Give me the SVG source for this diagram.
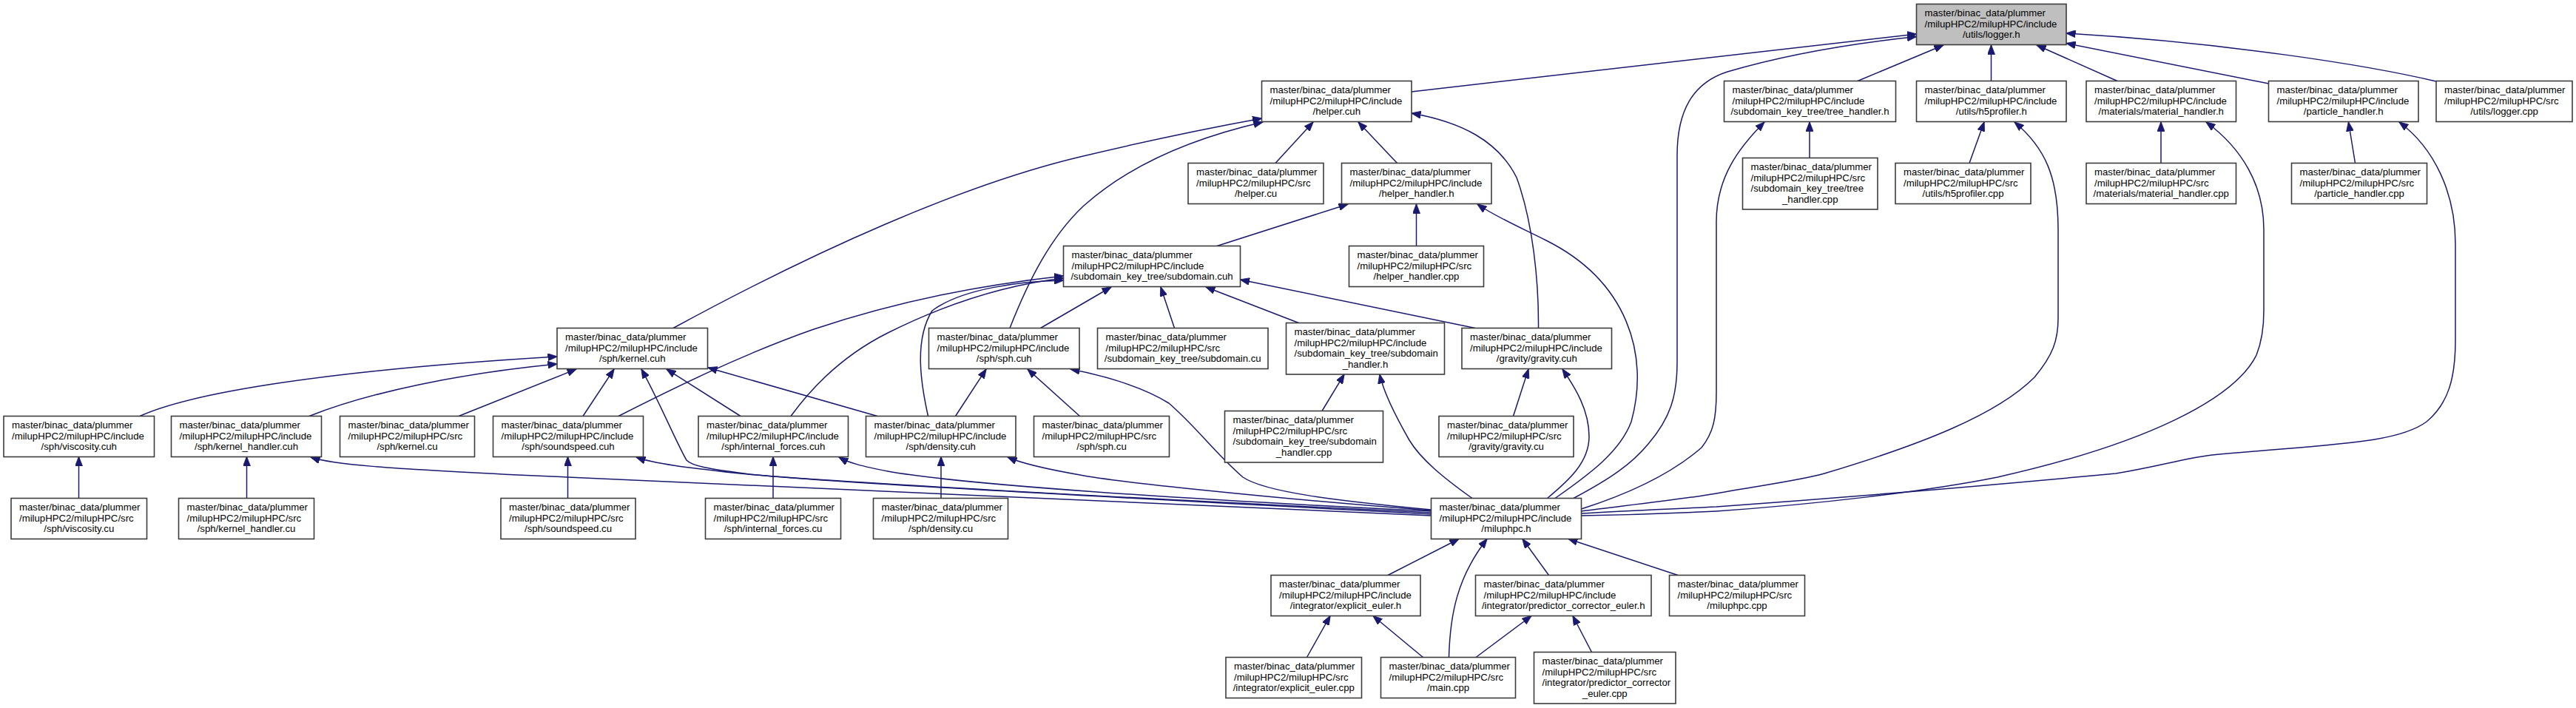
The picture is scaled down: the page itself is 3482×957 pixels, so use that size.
<svg xmlns="http://www.w3.org/2000/svg" width="3482" height="957" viewBox="0 0 3482 957">
<style>
.box{fill:#ffffff;stroke:#3c3c3c;stroke-width:1.6}
.root .box{fill:#bfbfbf}
text{font-family:"Liberation Sans",Arial,Helvetica,sans-serif;font-size:13.2px;fill:#000000}
.c{text-anchor:middle}
.edge{fill:none;stroke:#191970;stroke-width:1.5;marker-end:url(#ah)}
</style>
<defs>
<marker id="ah" viewBox="0 0 13 10" refX="12.5" refY="5" markerWidth="13" markerHeight="10" markerUnits="userSpaceOnUse" orient="auto"><path d="M0,0 L13,5 L0,10 z" fill="#191970" stroke="#191970" stroke-width="0.8"/></marker>
</defs>
<rect x="0" y="0" width="3482" height="957" fill="#ffffff"/>
<g id="edges">
<path class="edge" d="M1908,124 L2590.5,46"/>
<path class="edge" d="M2127,673.5 C2175,648 2205,628 2228,600 C2258,565 2267,535 2267,490 L2267,210 C2267,150 2288,112 2335,97 C2420,72 2520,57 2590.5,49.5"/>
<path class="edge" d="M2511,109.5 L2627,61"/>
<path class="edge" d="M2691.5,109.5 L2691.5,61"/>
<path class="edge" d="M2862,109.5 L2753,61"/>
<path class="edge" d="M3066.5,113 L2793,58.5"/>
<path class="edge" d="M3293,110 C3200,88 3010,58 2793,45"/>
<path class="edge" d="M910,443.5 C1100,340 1300,250 1460,212 C1560,188 1640,172 1705.5,160"/>
<path class="edge" d="M1365,443.5 C1390,380 1420,320 1465,278 C1530,220 1620,185 1707,165"/>
<path class="edge" d="M1724,220.5 L1775,165"/>
<path class="edge" d="M1888.5,220.5 L1836,165"/>
<path class="edge" d="M2079.5,443.5 C2080,380 2072,300 2050,240 C2025,190 1975,165 1908,153"/>
<path class="edge" d="M1645,332.5 L1822,276"/>
<path class="edge" d="M1914.5,332.5 L1914.5,276"/>
<path class="edge" d="M2102,673.5 C2150,640 2190,610 2205,570 C2230,480 2200,380 2090,325 C2050,305 2020,292 1997,276"/>
<path class="edge" d="M2446,213.5 L2446,165"/>
<path class="edge" d="M2137.5,688 C2200,668 2260,640 2300,605 C2316,585 2320,565 2320,530 L2320,300 C2320,240 2350,200 2385,165"/>
<path class="edge" d="M2662,220.5 L2682,165"/>
<path class="edge" d="M2137.5,691 C2200,683 2280,674 2320,667 C2380,656 2430,650 2466,640 C2600,600 2700,560 2750,510 C2775,480 2782,460 2782,430 L2782,310 C2782,240 2765,200 2723,165"/>
<path class="edge" d="M2921,220.5 L2921,165"/>
<path class="edge" d="M2137.5,697 C2200,696 2260,694 2320,691 C2450,682 2600,665 2700,645 C2900,600 3020,540 3050,480 C3058,460 3060,440 3060,420 L3060,310 C3060,250 3030,200 2982,165"/>
<path class="edge" d="M3183.5,220.5 L3174.5,165"/>
<path class="edge" d="M2137.5,694 C2200,690 2260,688 2320,685 C2500,672 2700,655 2860,640 C2920,630 2950,620 2990,615 C3150,600 3240,600 3280,570 C3310,545 3319,510 3319,460 L3319,330 C3319,260 3290,200 3243,165"/>
<path class="edge" d="M1406.5,443.5 L1502,388"/>
<path class="edge" d="M1587.5,443.5 L1569,388"/>
<path class="edge" d="M1755.5,436.5 L1630,388"/>
<path class="edge" d="M1994,443.5 L1676.5,378"/>
<path class="edge" d="M836,562.5 C900,530 1000,480 1100,445 C1220,405 1330,385 1437.5,373"/>
<path class="edge" d="M1069,562.5 C1100,520 1140,480 1200,450 C1280,410 1360,385 1437.5,376"/>
<path class="edge" d="M1254.5,562.5 C1245,520 1235,460 1260,420 C1300,390 1380,380 1437.5,379"/>
<path class="edge" d="M189,562.5 C260,530 450,500 753,482"/>
<path class="edge" d="M418,562.5 C500,530 620,505 753,492"/>
<path class="edge" d="M620,562.5 L779,499"/>
<path class="edge" d="M788,562.5 L830,499"/>
<path class="edge" d="M1934.5,695 C1500,672 1080,650 1006,640 C960,634 935,630 928,622 C915,600 890,540 867,499"/>
<path class="edge" d="M1001,562.5 L901,499"/>
<path class="edge" d="M1186,562.5 L957,497"/>
<path class="edge" d="M1291.5,562.5 L1333,499"/>
<path class="edge" d="M1459.5,562.5 L1389,499"/>
<path class="edge" d="M1934.5,689 C1800,676 1710,665 1680,645 C1640,610 1620,580 1580,545 C1540,520 1480,505 1447,499"/>
<path class="edge" d="M1787,555.5 L1817,506"/>
<path class="edge" d="M1990,673.5 C1950,645 1920,620 1905,595 C1885,560 1870,530 1865,506"/>
<path class="edge" d="M2045.5,562.5 L2066,499"/>
<path class="edge" d="M2091.5,673.5 C2120,650 2148,625 2148,590 C2148,555 2130,525 2112,499"/>
<path class="edge" d="M333.5,673.5 L333.5,617.5"/>
<path class="edge" d="M1934.5,697 L700,642 C520,633 450,628 420,618"/>
<path class="edge" d="M106.5,673.5 L106.5,617.5"/>
<path class="edge" d="M767.5,673.5 L767.5,617.5"/>
<path class="edge" d="M1934.5,693 C1500,672 1100,650 1000,640 C930,632 885,627 860,618"/>
<path class="edge" d="M1045,673.5 L1045,617.5"/>
<path class="edge" d="M1934.5,691 C1600,675 1300,655 1200,637 C1165,630 1148,626 1134,618"/>
<path class="edge" d="M1272,673.5 L1272,617.5"/>
<path class="edge" d="M1934.5,690 C1700,672 1500,650 1460,642 C1420,635 1385,628 1362,618"/>
<path class="edge" d="M1876,777.5 L1972,728.5"/>
<path class="edge" d="M1958.5,888.5 C1960,830 1970,780 2010,728.5"/>
<path class="edge" d="M2093.5,777.5 L2058,728.5"/>
<path class="edge" d="M2268,777.5 L2120,728.5"/>
<path class="edge" d="M1766.5,888.5 L1798,832.5"/>
<path class="edge" d="M1923.5,888.5 L1856,832.5"/>
<path class="edge" d="M1995,888.5 L2070,832.5"/>
<path class="edge" d="M2151.5,881.5 L2126,832.5"/>
</g>
<g id="n_logger_h" class="root"><rect class="box" x="2590.5" y="5.5" width="202.5" height="55"/><text x="2601.5" y="22">master/binac_data/plummer</text><text x="2601.5" y="36.5">/milupHPC2/milupHPC/include</text><text class="c" x="2691.75" y="51">/utils/logger.h</text></g>
<g id="n_helper_cuh"><rect class="box" x="1705.5" y="109.5" width="202.5" height="55"/><text x="1716.5" y="126">master/binac_data/plummer</text><text x="1716.5" y="140.5">/milupHPC2/milupHPC/include</text><text class="c" x="1806.75" y="155">/helper.cuh</text></g>
<g id="n_tree_handler_h"><rect class="box" x="2330.5" y="109.5" width="232" height="55"/><text x="2341.5" y="126">master/binac_data/plummer</text><text x="2341.5" y="140.5">/milupHPC2/milupHPC/include</text><text class="c" x="2446.5" y="155">/subdomain_key_tree/tree_handler.h</text></g>
<g id="n_h5profiler_h"><rect class="box" x="2590.5" y="109.5" width="202.5" height="55"/><text x="2601.5" y="126">master/binac_data/plummer</text><text x="2601.5" y="140.5">/milupHPC2/milupHPC/include</text><text class="c" x="2691.75" y="155">/utils/h5profiler.h</text></g>
<g id="n_material_handler_h"><rect class="box" x="2820" y="109.5" width="202.5" height="55"/><text x="2831" y="126">master/binac_data/plummer</text><text x="2831" y="140.5">/milupHPC2/milupHPC/include</text><text class="c" x="2921.25" y="155">/materials/material_handler.h</text></g>
<g id="n_particle_handler_h"><rect class="box" x="3066.5" y="109.5" width="202.5" height="55"/><text x="3077.5" y="126">master/binac_data/plummer</text><text x="3077.5" y="140.5">/milupHPC2/milupHPC/include</text><text class="c" x="3167.75" y="155">/particle_handler.h</text></g>
<g id="n_logger_cpp"><rect class="box" x="3293" y="109.5" width="184" height="55"/><text x="3304" y="126">master/binac_data/plummer</text><text x="3304" y="140.5">/milupHPC2/milupHPC/src</text><text class="c" x="3385" y="155">/utils/logger.cpp</text></g>
<g id="n_helper_cu"><rect class="box" x="1606" y="220.5" width="183" height="55"/><text x="1617" y="237">master/binac_data/plummer</text><text x="1617" y="251.5">/milupHPC2/milupHPC/src</text><text class="c" x="1697.5" y="266">/helper.cu</text></g>
<g id="n_helper_handler_h"><rect class="box" x="1813.5" y="220.5" width="202.5" height="55"/><text x="1824.5" y="237">master/binac_data/plummer</text><text x="1824.5" y="251.5">/milupHPC2/milupHPC/include</text><text class="c" x="1914.75" y="266">/helper_handler.h</text></g>
<g id="n_tree_handler_cpp"><rect class="box" x="2355.5" y="213.5" width="182.5" height="69.5"/><text x="2366.5" y="230">master/binac_data/plummer</text><text x="2366.5" y="244.5">/milupHPC2/milupHPC/src</text><text x="2366.5" y="259">/subdomain_key_tree/tree</text><text class="c" x="2446.75" y="273.5">_handler.cpp</text></g>
<g id="n_h5profiler_cpp"><rect class="box" x="2562" y="220.5" width="183" height="55"/><text x="2573" y="237">master/binac_data/plummer</text><text x="2573" y="251.5">/milupHPC2/milupHPC/src</text><text class="c" x="2653.5" y="266">/utils/h5profiler.cpp</text></g>
<g id="n_material_handler_cpp"><rect class="box" x="2820" y="220.5" width="202.5" height="55"/><text x="2831" y="237">master/binac_data/plummer</text><text x="2831" y="251.5">/milupHPC2/milupHPC/src</text><text class="c" x="2921.25" y="266">/materials/material_handler.cpp</text></g>
<g id="n_particle_handler_cpp"><rect class="box" x="3097.5" y="220.5" width="183" height="55"/><text x="3108.5" y="237">master/binac_data/plummer</text><text x="3108.5" y="251.5">/milupHPC2/milupHPC/src</text><text class="c" x="3189" y="266">/particle_handler.cpp</text></g>
<g id="n_subdomain_cuh"><rect class="box" x="1437.5" y="332.5" width="239" height="55"/><text x="1448.5" y="349">master/binac_data/plummer</text><text x="1448.5" y="363.5">/milupHPC2/milupHPC/include</text><text class="c" x="1557" y="378">/subdomain_key_tree/subdomain.cuh</text></g>
<g id="n_helper_handler_cpp"><rect class="box" x="1823.5" y="332.5" width="182" height="55"/><text x="1834.5" y="349">master/binac_data/plummer</text><text x="1834.5" y="363.5">/milupHPC2/milupHPC/src</text><text class="c" x="1914.5" y="378">/helper_handler.cpp</text></g>
<g id="n_kernel_cuh"><rect class="box" x="753" y="443.5" width="203.5" height="55"/><text x="764" y="460">master/binac_data/plummer</text><text x="764" y="474.5">/milupHPC2/milupHPC/include</text><text class="c" x="854.75" y="489">/sph/kernel.cuh</text></g>
<g id="n_sph_cuh"><rect class="box" x="1255.5" y="443.5" width="203.5" height="55"/><text x="1266.5" y="460">master/binac_data/plummer</text><text x="1266.5" y="474.5">/milupHPC2/milupHPC/include</text><text class="c" x="1357.25" y="489">/sph/sph.cuh</text></g>
<g id="n_subdomain_cu"><rect class="box" x="1483.5" y="443.5" width="230.5" height="55"/><text x="1494.5" y="460">master/binac_data/plummer</text><text x="1494.5" y="474.5">/milupHPC2/milupHPC/src</text><text class="c" x="1598.75" y="489">/subdomain_key_tree/subdomain.cu</text></g>
<g id="n_subdomain_handler_h"><rect class="box" x="1738.5" y="436.5" width="214" height="69.5"/><text x="1749.5" y="453">master/binac_data/plummer</text><text x="1749.5" y="467.5">/milupHPC2/milupHPC/include</text><text x="1749.5" y="482">/subdomain_key_tree/subdomain</text><text class="c" x="1845.5" y="496.5">_handler.h</text></g>
<g id="n_gravity_cuh"><rect class="box" x="1976" y="443.5" width="202.5" height="55"/><text x="1987" y="460">master/binac_data/plummer</text><text x="1987" y="474.5">/milupHPC2/milupHPC/include</text><text class="c" x="2077.25" y="489">/gravity/gravity.cuh</text></g>
<g id="n_viscosity_cuh"><rect class="box" x="5" y="562.5" width="203.5" height="55"/><text x="16" y="579">master/binac_data/plummer</text><text x="16" y="593.5">/milupHPC2/milupHPC/include</text><text class="c" x="106.75" y="608">/sph/viscosity.cuh</text></g>
<g id="n_kernel_handler_cuh"><rect class="box" x="231.5" y="562.5" width="203" height="55"/><text x="242.5" y="579">master/binac_data/plummer</text><text x="242.5" y="593.5">/milupHPC2/milupHPC/include</text><text class="c" x="333" y="608">/sph/kernel_handler.cuh</text></g>
<g id="n_kernel_cu"><rect class="box" x="459.5" y="562.5" width="182" height="55"/><text x="470.5" y="579">master/binac_data/plummer</text><text x="470.5" y="593.5">/milupHPC2/milupHPC/src</text><text class="c" x="550.5" y="608">/sph/kernel.cu</text></g>
<g id="n_soundspeed_cuh"><rect class="box" x="666.5" y="562.5" width="203" height="55"/><text x="677.5" y="579">master/binac_data/plummer</text><text x="677.5" y="593.5">/milupHPC2/milupHPC/include</text><text class="c" x="768" y="608">/sph/soundspeed.cuh</text></g>
<g id="n_internal_forces_cuh"><rect class="box" x="944" y="562.5" width="202.5" height="55"/><text x="955" y="579">master/binac_data/plummer</text><text x="955" y="593.5">/milupHPC2/milupHPC/include</text><text class="c" x="1045.25" y="608">/sph/internal_forces.cuh</text></g>
<g id="n_density_cuh"><rect class="box" x="1170.5" y="562.5" width="202.5" height="55"/><text x="1181.5" y="579">master/binac_data/plummer</text><text x="1181.5" y="593.5">/milupHPC2/milupHPC/include</text><text class="c" x="1271.75" y="608">/sph/density.cuh</text></g>
<g id="n_sph_cu"><rect class="box" x="1397.5" y="562.5" width="183" height="55"/><text x="1408.5" y="579">master/binac_data/plummer</text><text x="1408.5" y="593.5">/milupHPC2/milupHPC/src</text><text class="c" x="1489" y="608">/sph/sph.cu</text></g>
<g id="n_subdomain_handler_cpp"><rect class="box" x="1655.5" y="555.5" width="214" height="69.5"/><text x="1666.5" y="572">master/binac_data/plummer</text><text x="1666.5" y="586.5">/milupHPC2/milupHPC/src</text><text x="1666.5" y="601">/subdomain_key_tree/subdomain</text><text class="c" x="1762.5" y="615.5">_handler.cpp</text></g>
<g id="n_gravity_cu"><rect class="box" x="1945" y="562.5" width="182" height="55"/><text x="1956" y="579">master/binac_data/plummer</text><text x="1956" y="593.5">/milupHPC2/milupHPC/src</text><text class="c" x="2036" y="608">/gravity/gravity.cu</text></g>
<g id="n_viscosity_cu"><rect class="box" x="15" y="673.5" width="183.5" height="55"/><text x="26" y="690">master/binac_data/plummer</text><text x="26" y="704.5">/milupHPC2/milupHPC/src</text><text class="c" x="106.75" y="719">/sph/viscosity.cu</text></g>
<g id="n_kernel_handler_cu"><rect class="box" x="241.5" y="673.5" width="183" height="55"/><text x="252.5" y="690">master/binac_data/plummer</text><text x="252.5" y="704.5">/milupHPC2/milupHPC/src</text><text class="c" x="333" y="719">/sph/kernel_handler.cu</text></g>
<g id="n_soundspeed_cu"><rect class="box" x="677" y="673.5" width="182" height="55"/><text x="688" y="690">master/binac_data/plummer</text><text x="688" y="704.5">/milupHPC2/milupHPC/src</text><text class="c" x="768" y="719">/sph/soundspeed.cu</text></g>
<g id="n_internal_forces_cu"><rect class="box" x="953.5" y="673.5" width="183" height="55"/><text x="964.5" y="690">master/binac_data/plummer</text><text x="964.5" y="704.5">/milupHPC2/milupHPC/src</text><text class="c" x="1045" y="719">/sph/internal_forces.cu</text></g>
<g id="n_density_cu"><rect class="box" x="1180.5" y="673.5" width="182" height="55"/><text x="1191.5" y="690">master/binac_data/plummer</text><text x="1191.5" y="704.5">/milupHPC2/milupHPC/src</text><text class="c" x="1271.5" y="719">/sph/density.cu</text></g>
<g id="n_miluphpc_h"><rect class="box" x="1934.5" y="673.5" width="203" height="55"/><text x="1945.5" y="690">master/binac_data/plummer</text><text x="1945.5" y="704.5">/milupHPC2/milupHPC/include</text><text class="c" x="2036" y="719">/miluphpc.h</text></g>
<g id="n_explicit_euler_h"><rect class="box" x="1718" y="777.5" width="202" height="55"/><text x="1729" y="794">master/binac_data/plummer</text><text x="1729" y="808.5">/milupHPC2/milupHPC/include</text><text class="c" x="1819" y="823">/integrator/explicit_euler.h</text></g>
<g id="n_predictor_corrector_euler_h"><rect class="box" x="1994.5" y="777.5" width="237.5" height="55"/><text x="2005.5" y="794">master/binac_data/plummer</text><text x="2005.5" y="808.5">/milupHPC2/milupHPC/include</text><text class="c" x="2113.25" y="823">/integrator/predictor_corrector_euler.h</text></g>
<g id="n_miluphpc_cpp"><rect class="box" x="2256.5" y="777.5" width="183" height="55"/><text x="2267.5" y="794">master/binac_data/plummer</text><text x="2267.5" y="808.5">/milupHPC2/milupHPC/src</text><text class="c" x="2348" y="823">/miluphpc.cpp</text></g>
<g id="n_explicit_euler_cpp"><rect class="box" x="1657" y="888.5" width="183.5" height="55"/><text x="1668" y="905">master/binac_data/plummer</text><text x="1668" y="919.5">/milupHPC2/milupHPC/src</text><text class="c" x="1748.75" y="934">/integrator/explicit_euler.cpp</text></g>
<g id="n_main_cpp"><rect class="box" x="1866.5" y="888.5" width="182" height="55"/><text x="1877.5" y="905">master/binac_data/plummer</text><text x="1877.5" y="919.5">/milupHPC2/milupHPC/src</text><text class="c" x="1957.5" y="934">/main.cpp</text></g>
<g id="n_predictor_corrector_euler_cpp"><rect class="box" x="2073.5" y="881.5" width="191.5" height="69.5"/><text x="2084.5" y="898">master/binac_data/plummer</text><text x="2084.5" y="912.5">/milupHPC2/milupHPC/src</text><text x="2084.5" y="927">/integrator/predictor_corrector</text><text class="c" x="2169.25" y="941.5">_euler.cpp</text></g>
</svg>
